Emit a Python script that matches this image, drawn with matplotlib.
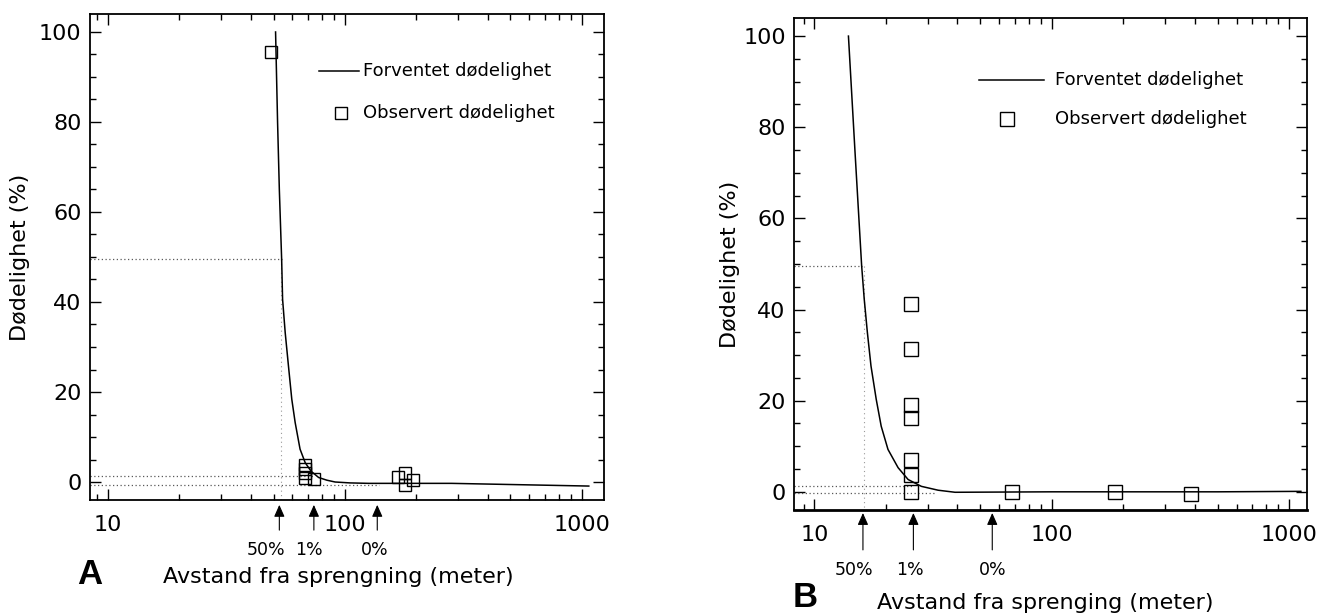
import matplotlib
matplotlib.use("Agg")
import matplotlib.pyplot as plt
from matplotlib.ticker import FixedLocator, MultipleLocator, LogLocator, NullFormatter

plt.rcParams['font.family'] = ['DejaVu Sans']

# ---------------- data ----------------
# Panel A
curveA_x = [51.0, 52.0, 52.9, 54.1, 54.6, 56.0, 57.8, 59.7, 61.7, 64.7, 68.0, 72.0, 77.5, 84.0, 91, 105, 126, 282, 1070]
curveA_y = [100, 80, 65, 49.5, 40.6, 33.2, 25.8, 18.4, 13.2, 7.3, 4.3, 2.4, 1.0, 0.4, 0.0, -0.2, -0.3, -0.3, -0.9]
obsA_x = [48.8, 68.1, 68.1, 68.1, 68.1, 74.0, 167.5, 179.5, 193.0, 179.0]
obsA_y = [95.6, 3.7, 2.8, 1.9, 1.0, 0.6, 1.2, 2.0, 0.5, -0.7]
arrowsA_x = [52.9, 74.0, 137.0]
arrowsA_labels_x = [46.4, 70.5, 134.0]

# Panel B
curveB_x = [13.9, 14.8, 15.8, 16.2, 16.7, 17.3, 18.2, 19.1, 20.4, 22.5, 24.8, 28.2, 33.2, 39.1, 100, 500, 1120]
curveB_y = [100, 75, 49.6, 42.3, 35.0, 27.6, 20.3, 14.4, 9.3, 5.3, 2.7, 1.2, 0.35, -0.1, 0.0, 0.0, 0.1]
obsB_x = [25.6, 25.6, 25.6, 25.6, 25.6, 25.6, 25.6, 67.9, 185.0, 386.0]
obsB_y = [41.2, 31.3, 19.0, 16.3, 7.0, 3.8, 0.0, -0.1, 0.0, -0.4]
arrowsB_x = [16.0, 26.1, 56.1]
arrowsB_labels_x = [14.7, 25.3, 56.1]

arrow_labels = ["50%", "1%", "0%"]
xtick_vals = [10, 100, 1000]
xtick_labels = ["10", "100", "1000"]
ytick_vals = [0, 20, 40, 60, 80, 100]
ytick_labels = ["0", "20", "40", "60", "80", "100"]

legend_line = "Forventet dødelighet"
legend_obs = "Observert dødelighet"
ylabel = "Dødelighet (%)"

fig = plt.figure(figsize=(13.19, 6.16), dpi=100)
axA = fig.add_axes([0.0682, 0.1883, 0.3897, 0.789])
axB = fig.add_axes([0.602, 0.172, 0.389, 0.799])

dot = dict(color='0.35', lw=0.9, linestyle=(0, (1, 2)))
panel_font = ['Liberation Sans Narrow', 'Liberation Sans', 'DejaVu Sans']


def style(ax, xlim):
    ax.set_xscale('log')
    ax.set_xlim(*xlim)
    ax.set_ylim(-4, 104)
    ax.set_xticks(xtick_vals, xtick_labels)
    ax.xaxis.set_minor_locator(LogLocator(base=10, subs=range(2, 10)))
    ax.xaxis.set_minor_formatter(NullFormatter())
    ax.set_yticks(ytick_vals, ytick_labels)
    ax.yaxis.set_minor_locator(MultipleLocator(5))
    ax.tick_params(which='both', direction='in', top=True, right=True, width=1.0)
    ax.tick_params(which='major', length=8, labelsize=16)
    ax.tick_params(which='minor', length=4)
    ax.tick_params(axis='y', pad=6)
    ax.tick_params(axis='x', pad=11)
    for s in ax.spines.values():
        s.set_linewidth(1.3)


def arrows(ax, xs, lxs, tip, tail, ty):
    tr = ax.get_xaxis_transform()
    for x in xs:
        ax.annotate('', xy=(x, tip), xycoords=tr, xytext=(x, tail), textcoords=tr,
                    arrowprops=dict(arrowstyle='-|>,head_length=0.72,head_width=0.32',
                                    lw=0.8, color='k', mutation_scale=10, shrinkA=0, shrinkB=0),
                    annotation_clip=False)
    for lx, lab in zip(lxs, arrow_labels):
        ax.text(lx, ty, lab, transform=tr, ha='center', va='center', fontsize=12.5)


# ---------------- Panel A ----------------
style(axA, (8.4, 1240))
axA.plot([8.4, 54.1], [49.5, 49.5], **dot)
axA.plot([53.7, 53.7], [49.5, -4], color='0.6', lw=0.8, linestyle=(0, (1, 3)))
axA.plot([8.4, 74.0], [1.3, 1.3], **dot)
axA.plot([8.4, 139.0], [-0.7, -0.7], **dot)
axA.plot(curveA_x, curveA_y, color='k', lw=1.1)
axA.plot(obsA_x, obsA_y, linestyle='none', marker='s', markersize=9,
         markerfacecolor='none', markeredgecolor='k', markeredgewidth=1.0)
axA.plot([77.6, 114.5], [91.3, 91.3], color='k', lw=1.1)
axA.text(119, 91.3, legend_line, ha='left', va='center', fontsize=13)
axA.plot([96.2], [81.9], linestyle='none', marker='s', markersize=9,
         markerfacecolor='none', markeredgecolor='k', markeredgewidth=1.0)
axA.text(119, 81.9, legend_obs, ha='left', va='center', fontsize=13)
arrows(axA, arrowsA_x, arrowsA_labels_x, -0.01, -0.062, -0.103)
axA.set_ylabel(ylabel, fontsize=16)
axA.yaxis.set_label_coords(-0.117, 0.5)
axA.set_xlabel("Avstand fra sprengning (meter)", fontsize=16)
axA.xaxis.set_label_coords(0.484, -0.138)
axA.text(0.0, -0.154, "A", transform=axA.transAxes, ha='center', va='center',
         fontsize=25, fontweight='bold', family=panel_font)

# ---------------- Panel B ----------------
style(axB, (8.2, 1190))
axB.spines['bottom'].set_linewidth(2.0)
axB.plot([8.2, 15.8], [49.6, 49.6], **dot)
axB.plot([16.1, 16.1], [49.6, -4], color='0.6', lw=0.8, linestyle=(0, (1, 3)))
axB.plot([8.2, 26.0], [1.2, 1.2], **dot)
axB.plot([8.2, 32.0], [-0.2, -0.2], **dot)
axB.plot(curveB_x, curveB_y, color='k', lw=1.1)
axB.plot(obsB_x, obsB_y, linestyle='none', marker='s', markersize=10,
         markerfacecolor='none', markeredgecolor='k', markeredgewidth=1.0)
axB.plot([49.5, 92.3], [90.3, 90.3], color='k', lw=1.1)
axB.text(103.5, 90.3, legend_line, ha='left', va='center', fontsize=13)
axB.plot([64.7], [81.7], linestyle='none', marker='s', markersize=10,
         markerfacecolor='none', markeredgecolor='k', markeredgewidth=1.0)
axB.text(103.5, 81.7, legend_obs, ha='left', va='center', fontsize=13)
arrows(axB, arrowsB_x, arrowsB_labels_x, -0.006, -0.081, -0.122)
axB.set_ylabel(ylabel, fontsize=16)
axB.yaxis.set_label_coords(-0.105, 0.5)
axB.set_xlabel("Avstand fra sprenging (meter)", fontsize=16)
axB.xaxis.set_label_coords(0.489, -0.169)
axB.text(0.021, -0.177, "B", transform=axB.transAxes, ha='center', va='center',
         fontsize=25, fontweight='bold', family=panel_font)

fig.savefig("out.png", dpi=100, facecolor='white')
